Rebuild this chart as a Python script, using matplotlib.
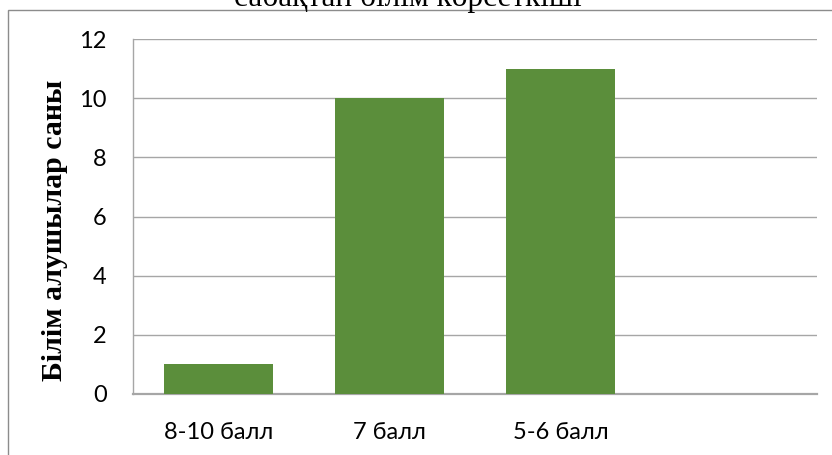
import numpy as np
import matplotlib
matplotlib.use("Agg")
import matplotlib.pyplot as plt
from matplotlib.patches import Rectangle

# Data
categories = ["8-10 балл", "7 балл", "5-6 балл", ""]
counts = [1, 10, 11, np.nan]
y_ticks = [0, 2, 4, 6, 8, 10, 12]
title_text = "сабақтан білім көрсеткіші"
y_label = "Білім алушылар саны"

bar_color = "#5B8E3B"
grid_color = "#A6A6A6"
tick_font = ["Lato", "DejaVu Sans"]
serif_font = ["Liberation Serif", "DejaVu Serif"]

fig = plt.figure(figsize=(8.32, 4.55), dpi=100)
ax = fig.add_axes([133 / 832, 1 - 394 / 455, (817 - 133) / 832, (394 - 39) / 455])

x = np.arange(len(categories))
ax.bar(x, counts, width=0.643, color=bar_color, zorder=3)

ax.set_xlim(-0.5, len(categories) - 0.5)
ax.set_ylim(0, 12)
ax.set_yticks(y_ticks)
ax.set_yticklabels([str(v) for v in y_ticks], fontsize=17, family=tick_font)
ax.set_xticks(x)
ax.set_xticklabels(categories, fontsize=17, family=tick_font)
ax.tick_params(axis="both", length=0, colors="black")
ax.tick_params(axis="y", pad=19)
ax.tick_params(axis="x", pad=20)

ax.yaxis.grid(True, color=grid_color, linewidth=1.0, zorder=0)
for side in ("top", "right"):
    ax.spines[side].set_visible(False)
ax.spines["left"].set_color(grid_color)
ax.spines["left"].set_linewidth(1.0)
ax.spines["bottom"].set_color(grid_color)
ax.spines["bottom"].set_linewidth(1.6)

ax.set_ylabel(y_label, fontsize=21.5, fontweight="bold", family=serif_font)
ax.yaxis.set_label_coords(-0.095, 0.462)

# Chart area frame (runs past the right and bottom edges)
fig.patches.append(Rectangle((8 / 832, -0.2), 2.0, 1.2 - 10 / 455,
                             transform=fig.transFigure, fill=False,
                             edgecolor="#8C8C8C", linewidth=1.0))

fig.text(408 / 832, 1 - 6 / 455, title_text, ha="center", va="baseline",
         fontsize=22.5, family=serif_font)

fig.savefig("out.png", dpi=100)
